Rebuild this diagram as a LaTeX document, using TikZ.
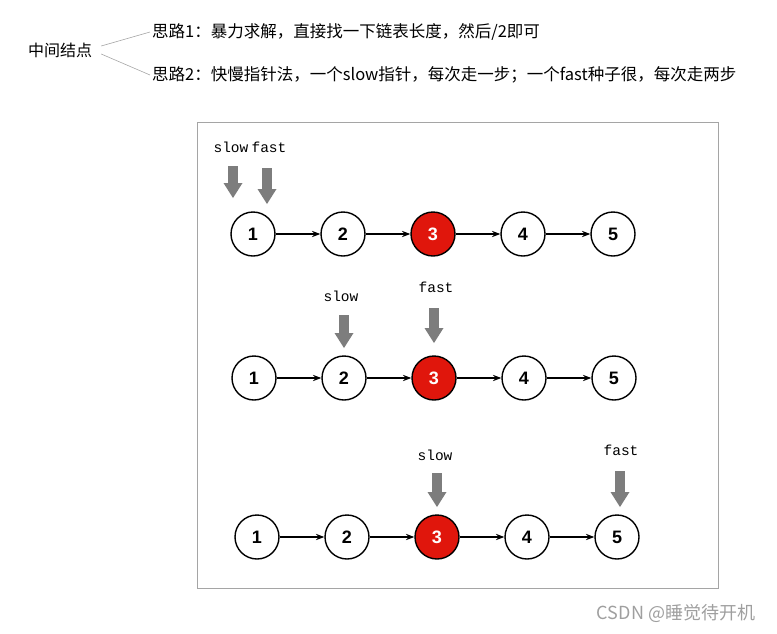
\documentclass[tikz,border=0pt]{standalone}
\usepackage{fontspec}
\setmainfont{Liberation Serif}
\newfontfamily\cjk{Noto Sans CJK SC}
\newfontfamily\numfont{Liberation Sans}
\newfontfamily\ptrfont{Liberation Mono}
\usepackage{tikz}
\usetikzlibrary{positioning}
\usetikzlibrary{arrows.meta}
\definecolor{nodered}{RGB}{224,22,12}
\definecolor{ptrgray}{RGB}{125,125,125}
\definecolor{framegray}{RGB}{165,165,165}
\tikzset{>=Stealth}
\tikzset{
  listnode/.style={circle, draw=black, line width=1.4pt, fill=white,
    minimum size=44pt, inner sep=0pt,
    font=\numfont\bfseries\fontsize{18}{18}\selectfont},
  midnode/.style={listnode, fill=nodered, text=white},
  link/.style={->, line width=1.2pt},
  ptr/.style={draw=ptrgray, line width=10pt,
    -{Triangle[length=15pt,width=19pt,line width=0pt]}},
  ptrlabel/.style={font=\ptrfont\fontsize{14.5}{14.5}\selectfont},
  idea/.style={anchor=west, inner sep=2pt, font=\cjk\fontsize{16.5}{16.5}\selectfont},
  branch/.style={draw=gray!70, line width=0.6pt}
}

\begin{document}
\begin{tikzpicture}[x=1pt,y=-1pt,node distance=44.6pt]
\useasboundingbox (0,0) rectangle (777,633);

% ---------- Heading ----------
\node[font=\cjk\fontsize{16}{16}\selectfont, inner sep=9pt] (root) at (60,50) {中间结点};
\node[idea] (idea1) at (150,32) {思路1：暴力求解，直接找一下链表长度，然后/2即可};
\node[idea] (idea2) at (150,75) {思路2：快慢指针法，一个slow指针，每次走一步；一个fast种子很，每次走两步};
\draw[branch] ([yshift=4pt]root.east) -- (idea1.west);
\draw[branch] ([yshift=-4pt]root.east) -- (idea2.west);

% ---------- Frame ----------
\draw[framegray, line width=0.8pt] (197,122) rectangle (718,588);

% ---------- Step 1 ----------
\node[listnode] (a1) at (253,234) {1};
\node[listnode, right=of a1] (a2) {2};
\node[midnode, right=of a2] (a3) {3};
\node[listnode, right=of a3] (a4) {4};
\node[listnode, right=of a4] (a5) {5};
\draw[link] (a1) -- (a2);
\draw[link] (a2) -- (a3);
\draw[link] (a3) -- (a4);
\draw[link] (a4) -- (a5);

\node[ptrlabel] (slow1) at (231,147) {slow};
\node[ptrlabel] (fast1) at (269,147) {fast};
\coordinate (slow1top) at (233,166);
\coordinate (slow1tip) at (233,198);
\coordinate (fast1top) at (267,168);
\coordinate (fast1tip) at (267,204);
\draw[ptr] (slow1top) -- (slow1tip);
\draw[ptr] (fast1top) -- (fast1tip);

% ---------- Step 2 ----------
\node[listnode] (b1) at (254,378) {1};
\node[listnode, right=of b1] (b2) {2};
\node[midnode, right=of b2] (b3) {3};
\node[listnode, right=of b3] (b4) {4};
\node[listnode, right=of b4] (b5) {5};
\draw[link] (b1) -- (b2);
\draw[link] (b2) -- (b3);
\draw[link] (b3) -- (b4);
\draw[link] (b4) -- (b5);

\node[ptrlabel] (slow2) at (341,296) {slow};
\node[ptrlabel] (fast2) at (436,287) {fast};
\coordinate (slow2top) at (344,315);
\coordinate (slow2tip) at (344,348);
\coordinate (fast2top) at (434,308);
\coordinate (fast2tip) at (434,343);
\draw[ptr] (slow2top) -- (slow2tip);
\draw[ptr] (fast2top) -- (fast2tip);

% ---------- Step 3 ----------
\node[listnode] (c1) at (257,537) {1};
\node[listnode, right=of c1] (c2) {2};
\node[midnode, right=of c2] (c3) {3};
\node[listnode, right=of c3] (c4) {4};
\node[listnode, right=of c4] (c5) {5};
\draw[link] (c1) -- (c2);
\draw[link] (c2) -- (c3);
\draw[link] (c3) -- (c4);
\draw[link] (c4) -- (c5);

\node[ptrlabel] (slow3) at (435,455) {slow};
\node[ptrlabel] (fast3) at (621,450) {fast};
\coordinate (slow3top) at (437,473);
\coordinate (slow3tip) at (437,507);
\coordinate (fast3top) at (620,471);
\coordinate (fast3tip) at (620,507);
\draw[ptr] (slow3top) -- (slow3tip);
\draw[ptr] (fast3top) -- (fast3tip);

% ---------- Watermark ----------
\node[font=\cjk\fontsize{18}{18}\selectfont, text=gray!75] (mark) at (676,613) {CSDN @睡觉待开机};

\end{tikzpicture}
\end{document}
